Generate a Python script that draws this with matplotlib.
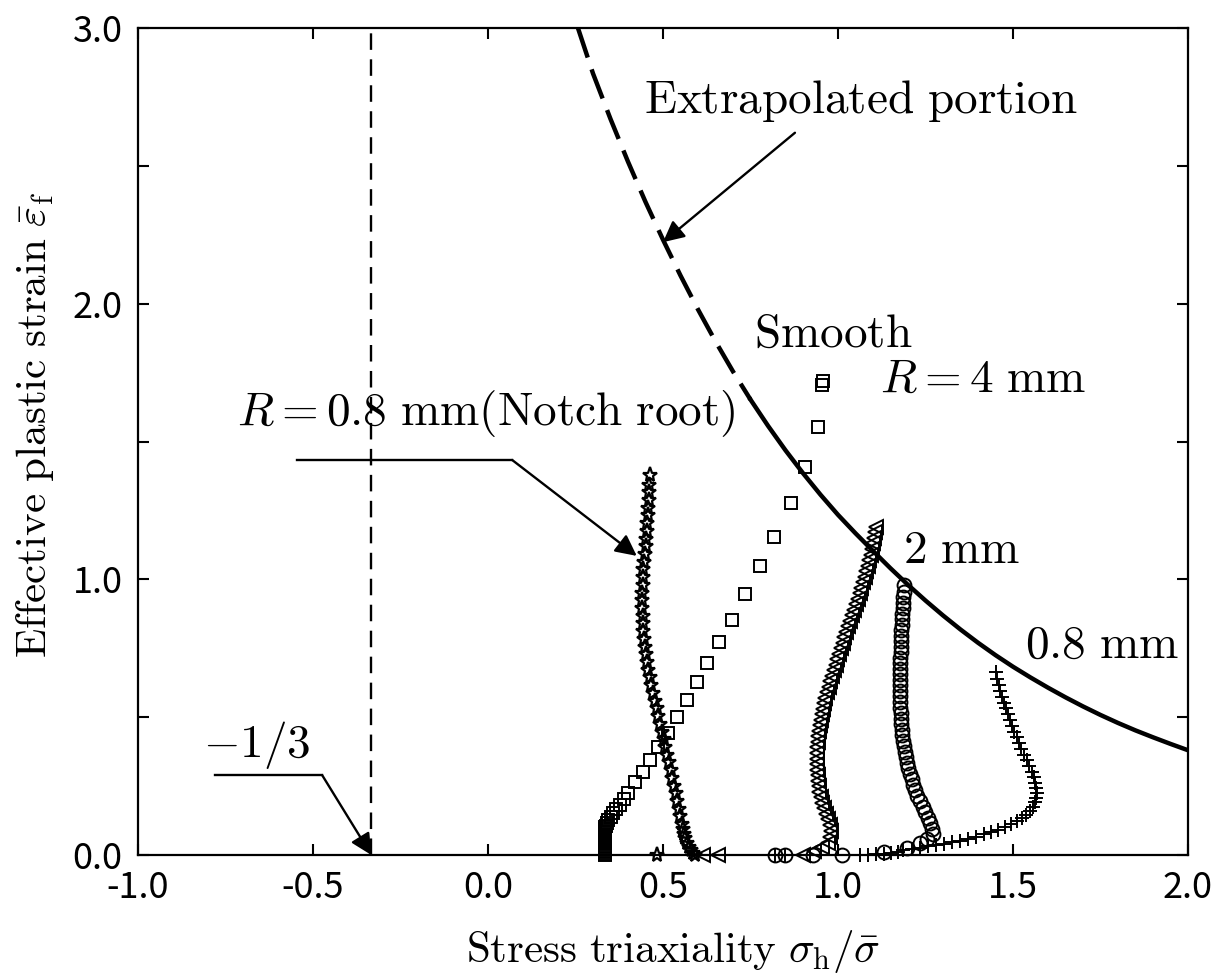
import matplotlib
matplotlib.use('Agg')
import matplotlib.pyplot as plt
from matplotlib.ticker import FixedLocator

plt.rcParams['mathtext.fontset'] = 'cm'
plt.rcParams['font.family'] = ['Noto Sans CJK JP', 'DejaVu Sans']

# ---------------- data ----------------
# fracture locus (dashed = extrapolated portion for x <= 0.75)
locus_x = [0.257, 0.30, 0.35, 0.40, 0.45, 0.50, 0.55, 0.60, 0.65, 0.70, 0.75,
           0.80, 0.85, 0.90, 0.95, 1.00, 1.05, 1.10, 1.15, 1.20, 1.25, 1.30,
           1.35, 1.40, 1.45, 1.50, 1.55, 1.60, 1.65, 1.70, 1.75, 1.80, 1.85,
           1.90, 1.95, 2.00]
locus_y = [3.000, 2.835, 2.670, 2.515, 2.369, 2.232, 2.102, 1.979, 1.863,
           1.754, 1.652, 1.557, 1.468, 1.385, 1.307, 1.234, 1.167, 1.103,
           1.040, 0.980, 0.923, 0.869, 0.818, 0.770, 0.725, 0.683, 0.644,
           0.607, 0.572, 0.539, 0.508, 0.479, 0.452, 0.427, 0.403, 0.380]
extrap_limit = 0.75

# Smooth specimen (squares)
smooth_x = [0.333, 0.333, 0.333, 0.333, 0.333, 0.333, 0.333, 0.333, 0.333,
            0.333, 0.333, 0.333, 0.333, 0.333, 0.333, 0.333, 0.333, 0.333,
            0.336, 0.340, 0.344, 0.350, 0.357, 0.366, 0.377, 0.388, 0.400,
            0.420, 0.443, 0.463, 0.486, 0.515, 0.539, 0.568, 0.596, 0.625,
            0.660, 0.696, 0.734, 0.778, 0.817, 0.865, 0.907, 0.942, 0.955,
            0.957]
smooth_y = [0.000, 0.005, 0.010, 0.016, 0.022, 0.028, 0.034, 0.040, 0.046,
            0.052, 0.058, 0.064, 0.070, 0.076, 0.082, 0.088, 0.094, 0.100,
            0.107, 0.117, 0.127, 0.139, 0.152, 0.166, 0.181, 0.202, 0.224,
            0.265, 0.300, 0.345, 0.393, 0.441, 0.500, 0.562, 0.629, 0.695,
            0.774, 0.853, 0.947, 1.047, 1.152, 1.277, 1.407, 1.552, 1.705,
            1.720]

# R = 0.8 mm, notch root (stars)
root_x = [0.483, 0.591, 0.586, 0.580, 0.574, 0.568, 0.563, 0.559, 0.556,
          0.553, 0.549, 0.545, 0.540, 0.536, 0.531, 0.527, 0.522, 0.517,
          0.512, 0.507, 0.502, 0.497, 0.492, 0.487, 0.482, 0.477, 0.472,
          0.467, 0.462, 0.458, 0.454, 0.451, 0.448, 0.446, 0.444, 0.443,
          0.442, 0.441, 0.441, 0.441, 0.442, 0.443, 0.444, 0.446, 0.448,
          0.450, 0.452, 0.454, 0.455, 0.457, 0.458, 0.459, 0.460, 0.461,
          0.463]
root_y = [0.000, 0.000, 0.008, 0.018, 0.030, 0.045, 0.060, 0.077, 0.095,
          0.113, 0.140, 0.168, 0.196, 0.224, 0.252, 0.280, 0.308, 0.336,
          0.364, 0.392, 0.420, 0.448, 0.476, 0.504, 0.532, 0.560, 0.588,
          0.616, 0.644, 0.672, 0.700, 0.728, 0.756, 0.784, 0.812, 0.840,
          0.868, 0.896, 0.924, 0.952, 0.980, 1.008, 1.036, 1.064, 1.092,
          1.120, 1.148, 1.176, 1.204, 1.232, 1.260, 1.288, 1.316, 1.344,
          1.378]

# R = 4 mm (triangles)
r4_x = [0.614, 0.657, 0.900, 0.930, 0.955, 0.970, 0.978, 0.981, 0.978,
        0.972, 0.965, 0.959, 0.954, 0.950, 0.947, 0.945, 0.943, 0.942,
        0.941, 0.940, 0.940, 0.940, 0.941, 0.942, 0.944, 0.946, 0.948,
        0.951, 0.954, 0.957, 0.960, 0.964, 0.968, 0.973, 0.978, 0.983,
        0.988, 0.993, 0.998, 1.003, 1.008, 1.013, 1.018, 1.024, 1.029,
        1.034, 1.040, 1.045, 1.051, 1.056, 1.062, 1.067, 1.072, 1.077,
        1.081, 1.085, 1.089, 1.093, 1.097, 1.100, 1.103, 1.106, 1.108]
r4_y = [0.000, 0.000, 0.000, 0.015, 0.028, 0.045, 0.065, 0.088, 0.110,
        0.130, 0.150, 0.170, 0.190, 0.210, 0.230, 0.250, 0.270, 0.290,
        0.310, 0.330, 0.350, 0.370, 0.390, 0.410, 0.430, 0.450, 0.470,
        0.490, 0.510, 0.530, 0.550, 0.570, 0.590, 0.610, 0.630, 0.650,
        0.670, 0.690, 0.710, 0.730, 0.750, 0.770, 0.790, 0.810, 0.830,
        0.850, 0.870, 0.890, 0.910, 0.930, 0.950, 0.970, 0.990, 1.010,
        1.030, 1.050, 1.070, 1.090, 1.110, 1.130, 1.150, 1.170, 1.190]

# R = 2 mm (circles)
r2_x = [0.820, 0.849, 0.929, 1.011, 1.130, 1.196, 1.234, 1.255, 1.272,
        1.268, 1.262, 1.256, 1.249, 1.242, 1.234, 1.227, 1.221, 1.215,
        1.210, 1.205, 1.201, 1.197, 1.194, 1.191, 1.188, 1.186, 1.184,
        1.182, 1.181, 1.180, 1.179, 1.178, 1.178, 1.177, 1.177, 1.177,
        1.177, 1.177, 1.177, 1.178, 1.178, 1.179, 1.179, 1.180, 1.180,
        1.181, 1.182, 1.183, 1.184, 1.185, 1.186, 1.187, 1.188, 1.189]
r2_y = [0.000, 0.000, 0.000, 0.000, 0.010, 0.024, 0.042, 0.058, 0.075,
        0.095, 0.115, 0.135, 0.155, 0.175, 0.195, 0.215, 0.235, 0.255,
        0.275, 0.295, 0.315, 0.335, 0.355, 0.375, 0.395, 0.415, 0.435,
        0.455, 0.475, 0.495, 0.515, 0.535, 0.555, 0.575, 0.595, 0.615,
        0.635, 0.655, 0.675, 0.695, 0.715, 0.735, 0.755, 0.775, 0.795,
        0.815, 0.835, 0.855, 0.875, 0.895, 0.915, 0.935, 0.955, 0.979]

# R = 0.8 mm (plus)
r08_x = [0.820, 0.849, 1.063, 1.085, 1.108, 1.130, 1.150, 1.170, 1.187,
         1.210, 1.233, 1.256, 1.279, 1.302, 1.325, 1.348, 1.371, 1.394,
         1.416, 1.437, 1.457, 1.476, 1.494, 1.510, 1.525, 1.538, 1.549,
         1.557, 1.563, 1.567, 1.568, 1.567, 1.564, 1.559, 1.553, 1.546,
         1.539, 1.531, 1.524, 1.517, 1.510, 1.503, 1.497, 1.491, 1.485,
         1.479, 1.473, 1.468, 1.463, 1.459, 1.455, 1.450]
r08_y = [0.000, 0.000, 0.000, 0.000, 0.002, 0.004, 0.007, 0.012, 0.018,
         0.022, 0.027, 0.031, 0.035, 0.040, 0.046, 0.052, 0.059, 0.067,
         0.075, 0.083, 0.092, 0.101, 0.111, 0.122, 0.133, 0.146, 0.160,
         0.175, 0.191, 0.208, 0.225, 0.243, 0.262, 0.282, 0.302, 0.322,
         0.343, 0.364, 0.385, 0.406, 0.427, 0.448, 0.469, 0.490, 0.511,
         0.532, 0.553, 0.574, 0.595, 0.616, 0.637, 0.665]

x_ticks = [-1.0, -0.5, 0.0, 0.5, 1.0, 1.5, 2.0]
x_ticklabels = ['-1.0', '-0.5', '0.0', '0.5', '1.0', '1.5', '2.0']
y_ticks = [0.0, 1.0, 2.0, 3.0]
y_ticklabels = ['0.0', '1.0', '2.0', '3.0']
y_minor = [0.5, 1.5, 2.5]
limit_x = -1.0 / 3.0

# ---------------- figure ----------------
fig = plt.figure(figsize=(12.18, 9.77), dpi=100)
ax = fig.add_axes([138 / 1218, 1 - 855 / 977, 1050 / 1218, 827 / 977])
ax.set_xlim(-1.0, 2.0)
ax.set_ylim(0.0, 3.0)

# fracture locus
dx = [x for x in locus_x if x <= extrap_limit]
dy = [y for x, y in zip(locus_x, locus_y) if x <= extrap_limit]
sx = [x for x in locus_x if x >= extrap_limit]
sy = [y for x, y in zip(locus_x, locus_y) if x >= extrap_limit]
ax.plot(dx, dy, color='k', lw=3.2, dashes=(7, 2.8), solid_capstyle='butt',
        zorder=2)
ax.plot(sx, sy, color='k', lw=3.2, zorder=2, solid_joinstyle='round')

# vertical limit line
ax.plot([limit_x, limit_x], [0, 3], color='k', lw=1.7, dashes=(7, 4),
        zorder=2)

mk = dict(ls='none', mfc='none', mec='k', clip_on=False, zorder=3)
ax.plot(smooth_x, smooth_y, marker='s', ms=8.5, mew=1.4, **mk)
ax.plot(root_x, root_y, marker='*', ms=11, mew=1.6, **mk)
ax.plot(r4_x, r4_y, marker='<', ms=10.5, mew=1.4, **mk)
ax.plot(r2_x, r2_y, marker='o', ms=10, mew=1.4, **mk)
ax.plot(r08_x, r08_y, marker='+', ms=10.5, mew=1.4, **mk)

# ticks
ax.xaxis.set_major_locator(FixedLocator(x_ticks))
ax.set_xticklabels(x_ticklabels)
ax.yaxis.set_major_locator(FixedLocator(y_ticks))
ax.set_yticklabels(y_ticklabels)
ax.yaxis.set_minor_locator(FixedLocator(y_minor))
ax.tick_params(which='both', direction='in', top=True, right=True,
               length=8, width=1.5, labelsize=26, pad=11)
for sp in ax.spines.values():
    sp.set_linewidth(1.6)

ax.set_xlabel(r'$\mathrm{Stress\ triaxiality}\ \sigma_\mathrm{h}/\bar{\sigma}$',
              fontsize=31)
ax.set_ylabel(r'$\mathrm{Effective\ plastic\ strain}\ \bar{\varepsilon}_\mathrm{f}$',
              fontsize=31)
ax.xaxis.set_label_coords(0.51, -0.088)
ax.yaxis.set_label_coords(-0.078, 0.52)

tfs = 34
ap = dict(arrowstyle='-|>', color='k', lw=1.7, mutation_scale=32,
          shrinkA=0, shrinkB=0)

ax.text(1.067, 2.738, r'$\mathrm{Extrapolated\ portion}$', fontsize=tfs,
        ha='center', va='center')
ax.annotate('', xy=(0.50, 2.223), xytext=(0.877, 2.62), arrowprops=ap)

ax.text(0.986, 1.893, r'$\mathrm{Smooth}$', fontsize=tfs, ha='center',
        va='center')

ax.text(-0.006, 1.603, r'$R=0.8\ \mathrm{mm(Notch\ root)}$', fontsize=tfs,
        ha='center', va='center')
ax.plot([-0.546, 0.069], [1.433, 1.433], color='k', lw=1.7)
ax.annotate('', xy=(0.425, 1.085), xytext=(0.069, 1.433), arrowprops=ap)

ax.text(1.414, 1.730, r'$R=4\ \mathrm{mm}$', fontsize=tfs, ha='center',
        va='center')
ax.text(1.354, 1.106, r'$2\ \mathrm{mm}$', fontsize=tfs, ha='center',
        va='center')
ax.text(1.754, 0.762, r'$0.8\ \mathrm{mm}$', fontsize=tfs, ha='center',
        va='center')

ax.text(-0.66, 0.40, r'$-1/3$', fontsize=tfs, ha='center', va='center')
ax.plot([-0.78, -0.474], [0.29, 0.29], color='k', lw=1.7)
ax.annotate('', xy=(limit_x, 0.0), xytext=(-0.474, 0.29), arrowprops=ap)

fig.savefig('out.png', dpi=100)
